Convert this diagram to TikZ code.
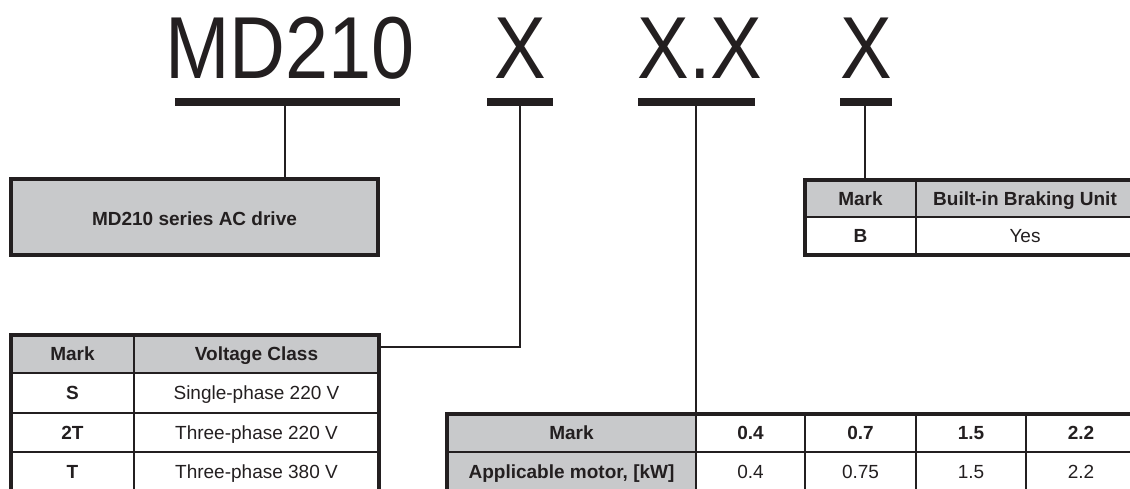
\documentclass[tikz,border=0pt]{standalone}
\usepackage{fontspec}
\usepackage{graphicx}
\setmainfont{Liberation Sans}
\definecolor{ink}{HTML}{231F20}
\definecolor{hdrgray}{HTML}{C8C9CB}
\tikzset{
  cell/.style={draw=ink, line width=2pt, inner sep=0pt, outer sep=0pt, anchor=north west,
    text=ink, text height=13.6pt, text depth=0pt, font=\fontsize{19}{19}\selectfont},
  bcell/.style={cell, font=\bfseries\fontsize{19}{19}\selectfont},
  hdr/.style={bcell, fill=hdrgray},
  frame/.style={draw=ink, line width=4pt},
  bar/.style={draw=ink, line width=8pt},
  conn/.style={draw=ink, line width=2.5pt},
  big/.style={font=\fontsize{88}{88}\selectfont, text=ink, inner sep=0pt, anchor=base}
}
\begin{document}
\begin{tikzpicture}[x=1pt,y=-1pt]
\useasboundingbox (0,0) rectangle (1130,488);
% big type code
\node[big] (t1) at (290,78) {\scalebox{0.88}[1]{MD210}};
\node[big] (t2) at (520,78) {\scalebox{0.88}[1]{X}};
\node[big] (t3) at (700,78) {\scalebox{0.88}[1]{X.X}};
\node[big] (t4) at (866,78) {\scalebox{0.88}[1]{X}};
% underline bars
\draw[bar] (175,102) -- (400,102);
\draw[bar] (487,102) -- (553,102);
\draw[bar] (638,102) -- (755,102);
\draw[bar] (840,102) -- (892,102);
\coordinate (b1) at (285,106);
\coordinate (b2) at (520,106);
\coordinate (b3) at (696,106);
\coordinate (b4) at (865,106);
% series box
\node[hdr, minimum width=367pt, minimum height=76pt, text height=16.6pt, text depth=-3pt] (box) at (11,179) {MD210 series AC drive};
\draw[frame] (box.north west) rectangle (box.south east);
% voltage table
\node[hdr, minimum width=123pt, minimum height=38pt] (v11) at (11,335) {Mark};
\node[hdr, minimum width=245pt, minimum height=38pt] (v12) at (134,335) {Voltage Class};
\node[bcell, minimum width=123pt, minimum height=40pt] (v21) at (11,373) {S};
\node[cell, minimum width=245pt, minimum height=40pt] (v22) at (134,373) {Single-phase 220 V};
\node[bcell, minimum width=123pt, minimum height=39pt] (v31) at (11,413) {2T};
\node[cell, minimum width=245pt, minimum height=39pt] (v32) at (134,413) {Three-phase 220 V};
\node[bcell, minimum width=123pt, minimum height=40pt] (v41) at (11,452) {T};
\node[cell, minimum width=245pt, minimum height=40pt] (v42) at (134,452) {Three-phase 380 V};
\draw[frame] (v11.north west) rectangle (v42.south east);
% braking table
\node[hdr, minimum width=111pt, minimum height=37pt] (k11) at (805,180) {Mark};
\node[hdr, minimum width=218pt, minimum height=37pt] (k12) at (916,180) {Built-in Braking Unit};
\node[bcell, minimum width=111pt, minimum height=38pt] (k21) at (805,217) {B};
\node[cell, minimum width=218pt, minimum height=38pt] (k22) at (916,217) {Yes};
\draw[frame] (k11.north west) rectangle (k22.south east);
% motor table
\node[hdr, minimum width=249pt, minimum height=38pt] (m11) at (447,414) {Mark};
\node[bcell, minimum width=109pt, minimum height=38pt] (m12) at (696,414) {0.4};
\node[bcell, minimum width=111pt, minimum height=38pt] (m13) at (805,414) {0.7};
\node[bcell, minimum width=110pt, minimum height=38pt] (m14) at (916,414) {1.5};
\node[bcell, minimum width=110pt, minimum height=38pt] (m15) at (1026,414) {2.2};
\node[hdr, minimum width=249pt, minimum height=40pt] (m21) at (447,452) {Applicable motor, [kW]};
\node[cell, minimum width=109pt, minimum height=40pt] (m22) at (696,452) {0.4};
\node[cell, minimum width=111pt, minimum height=40pt] (m23) at (805,452) {0.75};
\node[cell, minimum width=110pt, minimum height=40pt] (m24) at (916,452) {1.5};
\node[cell, minimum width=110pt, minimum height=40pt] (m25) at (1026,452) {2.2};
\draw[frame] (m11.north west) rectangle (m25.south east);
% connectors
\coordinate (j) at (520,347);
\draw[conn] (b1) -- (b1 |- box.north);
\draw[conn] (b2) -- (j) -- (j -| v12.east);
\draw[conn] (b3) -- (b3 |- m12.north);
\draw[conn] (b4) -- (b4 |- k11.north);
\end{tikzpicture}
\end{document}
